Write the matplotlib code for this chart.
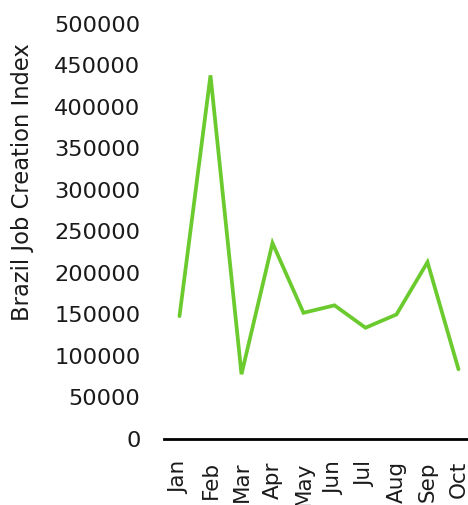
import matplotlib
matplotlib.use("Agg")
import matplotlib.pyplot as plt

months = ["Jan", "Feb", "Mar", "Apr", "May", "Jun", "Jul", "Aug", "Sep", "Oct"]
job_index = [148000, 438000, 78000, 236000, 152000, 161000, 134000, 150000, 213000, 84000]
y_ticks = list(range(0, 500001, 50000))

plt.rcParams["font.family"] = "DejaVu Sans"

fig = plt.figure(figsize=(4.68, 5.05), dpi=100)
ax = fig.add_axes([0.3504, 0.1307, 0.6624, 0.822])

x = list(range(len(months)))
ax.plot(x, job_index, color="#6BCB2E", linewidth=2.7, solid_capstyle="round",
        solid_joinstyle="miter")

ax.set_xlim(-0.5, len(months) - 0.5)
ax.set_ylim(0, 500000)
ax.set_yticks(y_ticks)
ax.set_yticklabels([str(v) for v in y_ticks], fontsize=16.2, color="#1a1a1a")
ax.set_xticks(x)
ax.set_xticklabels(months, rotation=90, fontsize=15.5, color="#1a1a1a")
ax.tick_params(axis="y", length=0, pad=17)
ax.tick_params(axis="x", length=0, pad=16)

for side in ["top", "right", "left"]:
    ax.spines[side].set_visible(False)
ax.spines["bottom"].set_linewidth(2)
ax.spines["bottom"].set_color("black")

ax.set_ylabel("Brazil Job Creation Index", fontsize=16.3, color="#1a1a1a")
ax.yaxis.set_label_coords(-0.418, 0.62)

fig.savefig("out.png", dpi=100)
